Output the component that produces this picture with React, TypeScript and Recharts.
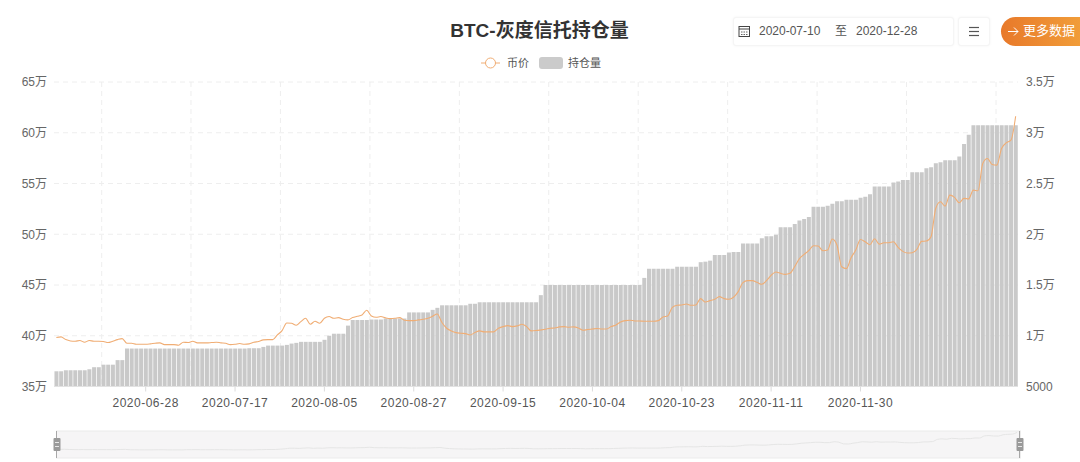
import React from 'react';
import { ComposedChart, Bar, Line, XAxis, YAxis, CartesianGrid, Brush, LineChart } from 'recharts';

const FONT = '"Liberation Sans","Noto Sans CJK SC",sans-serif';

// Holdings (BTC), one per trading day shown on the chart
const holdings: number[] = [
  365000,365000,366000,366000,366000,366000,366000,367000,369000,369000,
  371500,371500,371500,376000,376000,387400,387400,387400,387400,387400,
  387400,387400,387400,387400,387400,387400,387400,387400,387400,387400,
  387400,387400,387400,387400,387400,387400,387400,387400,387400,387400,
  387400,387700,387700,387700,389000,390300,390300,390300,390300,391000,
  392300,393000,394000,394000,394000,394000,394000,396000,400000,402000,
  402000,402000,410000,415500,415500,415500,415500,416000,416000,416000,
  417000,417000,417000,417000,417000,423000,423000,423000,423000,423000,
  425500,427500,430000,430000,430000,430000,430000,430000,431500,431500,
  433000,433000,433000,433000,433000,433000,433000,433000,433000,433000,
  433000,433000,433000,440000,450000,450000,450000,450000,450000,450000,
  450000,450000,450000,450000,450000,450000,450000,450000,450000,450000,
  450000,450000,450000,450000,450000,457000,466000,466000,466000,466000,
  466000,466000,468000,468000,468000,468000,468000,472500,473000,474000,
  479500,479500,479500,482000,482500,482500,491000,491000,491000,491000,
  496000,498000,498000,499500,507000,507000,507000,510000,513500,515000,
  517000,527000,527000,527000,528000,530000,532500,532500,534000,534000,
  534000,536000,537000,539500,547000,547000,547000,547000,551000,552000,
  553500,553500,561000,561000,561000,565000,566000,570000,571000,573000,
  573000,573000,576500,589000,598000,607500,607500,607500,607500,607500,
  607500,607500,607500,607500,607500,
];

// Coin price (USD), same order
const prices: number[] = [
  9820,9890,9620,9490,9460,9530,9360,9530,9460,9460,
  9430,9330,9460,9620,9720,9260,9260,9160,9160,9160,
  9200,9260,9300,9130,9130,9130,9070,9360,9330,9460,
  9300,9300,9300,9330,9360,9300,9260,9130,9160,9230,
  9160,9200,9360,9430,9590,9620,9620,10080,10510,11260,
  11230,11030,11390,11720,11130,11430,11230,11720,11890,11720,
  11790,11620,11560,11790,11920,12050,12510,11950,11820,11890,
  11760,11690,11720,11790,11530,11490,11490,11560,11620,11720,
  11920,12150,11300,10740,10480,10310,10250,10210,10080,10310,
  10480,10380,10380,10380,10740,10900,11000,10900,10970,11130,
  10900,10480,10510,10570,10640,10740,10770,10870,10900,10840,
  10870,10770,10540,10610,10670,10710,10670,10670,10900,11070,
  11360,11490,11530,11460,11460,11430,11430,11430,11490,11850,
  11950,12800,13000,13030,13130,13000,13030,13660,13330,13460,
  13590,13850,13660,13590,13790,14350,15230,15430,15430,15260,
  15070,15430,15950,16280,16150,16050,16150,16800,17590,18020,
  18380,18870,18840,18380,18440,19530,18940,16800,16610,17690,
  18440,19490,19260,18970,19560,19030,19170,19170,19260,18710,
  18310,18150,18180,18510,19300,19330,19760,22540,23200,22770,
  23850,23630,23100,23530,23490,24350,24280,26970,27460,26870,
  26810,28450,29000,29270,31630,
];

// Labelled dates; the tick labels sit at every 19th category
const tickDates: string[] = ['2020-06-28','2020-07-17','2020-08-05','2020-08-27','2020-09-15','2020-10-04','2020-10-23','2020-11-11','2020-11-30'];
const tickIndexes: number[] = [19,38,57,76,95,114,133,152,171];
const leftTicks: number[] = [350000,400000,450000,500000,550000,600000,650000];
const rightTicks: number[] = [5000,10000,15000,20000,25000,30000,35000];
// Vertical guide lines, as a fraction of the plot width
const guideFractions: number[] = [0.0495,0.1421,0.2349,0.3277,0.4205,0.5132,0.606,0.6988,0.7916,0.8844,0.9772];

const categories: string[] = holdings.map((_, i) => {
  const t = tickIndexes.indexOf(i);
  return t >= 0 ? tickDates[t] : `d${i}`;
});
const rows = categories.map((date, i) => ({ date, holdings: holdings[i], price: prices[i] }));

const wan = (v: number) => (v === 5000 ? '5000' : `${v / 10000}万`);

const Handle = (p: any) => (
  <g>
    <line x1={p.x} x2={p.x} y1={p.y} y2={p.y + p.height} stroke="#a8a8a8" strokeWidth={1} />
    <rect x={p.x - 3} y={p.y + 7} width={7} height={13} rx={1} fill="#9a9a9a" />
    <rect x={p.x - 1.5} y={p.y + 11} width={4} height={1} fill="#e8e8e8" />
    <rect x={p.x - 1.5} y={p.y + 15} width={4} height={1} fill="#e8e8e8" />
  </g>
);

const box: React.CSSProperties = {
  position: 'absolute', top: 17, height: 29, boxSizing: 'border-box', background: '#fff',
  border: '1px solid #f5f5f5', borderRadius: 3, boxShadow: '0 0 3px rgba(0,0,0,0.05)',
};
const small = (left: number, color = '#555', size = 12): React.CSSProperties => ({
  position: 'absolute', left, top: 23, fontSize: size, lineHeight: '17px', color, whiteSpace: 'nowrap',
});

export default function App() {
  return (
    <div style={{ position: 'absolute', left: 0, top: 0, width: 1080, height: 462, overflow: 'hidden', background: '#fff', fontFamily: FONT }}>
      <ComposedChart width={1080} height={462} data={rows} barCategoryGap="30%" margin={{ top: 82, right: 0, bottom: 18.5, left: 0 }}>
        <CartesianGrid
          stroke="#eeeeee"
          strokeDasharray="5 4"
          yAxisId="left"
          verticalCoordinatesGenerator={({ offset }: any) => guideFractions.map((f) => offset.left + offset.width * f)}
        />
        <XAxis
          dataKey="date"
          ticks={tickDates}
          interval={0}
          height={30}
          tickSize={5}
          tickMargin={7}
          axisLine={{ stroke: '#e2e2e2' }}
          tickLine={{ stroke: '#dcdcdc' }}
          tick={{ fontSize: 12, fill: '#555', fontFamily: FONT, letterSpacing: 0.5 }}
        />
        <YAxis
          yAxisId="left"
          width={54}
          domain={[350000, 650000]}
          ticks={leftTicks}
          tickFormatter={wan}
          axisLine={false}
          tickLine={false}
          tickMargin={1}
          tick={{ fontSize: 12, fill: '#666', fontFamily: FONT }}
        />
        <YAxis
          yAxisId="right"
          orientation="right"
          width={62}
          domain={[5000, 35000]}
          ticks={rightTicks}
          tickFormatter={wan}
          axisLine={false}
          tickLine={false}
          tickMargin={2}
          tick={{ fontSize: 12, fill: '#666', fontFamily: FONT }}
        />
        <Bar yAxisId="left" dataKey="holdings" name="持仓量" fill="#c9c9c9" isAnimationActive={false} />
        <Line yAxisId="right" dataKey="price" name="币价" type="monotone" stroke="#f0ad74" strokeWidth={1.1} dot={false} isAnimationActive={false} />
        <Brush
          dataKey="date"
          x={56.5}
          y={431}
          width={964}
          height={27}
          travellerWidth={1}
          stroke="#ececec"
          fill="#f9f8f9"
          traveller={(p: any) => <Handle {...p} />}
          tickFormatter={() => ''}
        >
          <LineChart data={rows}>
            <Line dataKey="price" type="monotone" stroke="#e4e4e4" strokeWidth={1} dot={false} isAnimationActive={false} />
          </LineChart>
        </Brush>
      </ComposedChart>

      <div style={{ position: 'absolute', left: 0, width: 1079, top: 19, textAlign: 'center', fontSize: 19, lineHeight: '24px', fontWeight: 700, color: '#333' }}>BTC-灰度信托持仓量</div>

      <svg style={{ position: 'absolute', left: 480, top: 55.5 }} width={22} height={14}>
        <line x1={1} x2={20} y1={7} y2={7} stroke="#f0ad74" />
        <circle cx={10.5} cy={7} r={5} fill="#fff" stroke="#f0ad74" />
      </svg>
      <div style={{ ...small(507, '#555', 11), top: 54.5 }}>币价</div>
      <div style={{ position: 'absolute', left: 539, top: 57, width: 24, height: 12, borderRadius: 3, background: '#cbcbcb' }} />
      <div style={{ ...small(568, '#555', 11), top: 54.5 }}>持仓量</div>

      <div style={{ ...box, left: 733, width: 221 }} />
      <svg style={{ position: 'absolute', left: 738, top: 25 }} width={13} height={13}>
        <rect x={1} y={1.5} width={10.5} height={10} fill="none" stroke="#444" />
        <line x1={1} x2={11.5} y1={4} y2={4} stroke="#444" />
        <line x1={3} x2={10} y1={7} y2={7} stroke="#666" strokeDasharray="1.5 1" />
        <line x1={3} x2={10} y1={9.5} y2={9.5} stroke="#666" strokeDasharray="1.5 1" />
      </svg>
      <div style={small(759)}>2020-07-10</div>
      <div style={small(835)}>至</div>
      <div style={small(856)}>2020-12-28</div>

      <div style={{ ...box, left: 958, width: 32 }} />
      <svg style={{ position: 'absolute', left: 968, top: 26 }} width={12} height={11}>
        <line x1={1} x2={11} y1={1.5} y2={1.5} stroke="#555" strokeWidth={1.2} />
        <line x1={1} x2={11} y1={5.5} y2={5.5} stroke="#555" strokeWidth={1.2} />
        <line x1={1} x2={11} y1={9.5} y2={9.5} stroke="#555" strokeWidth={1.2} />
      </svg>

      <div style={{ position: 'absolute', left: 1001, top: 17, width: 100, height: 29, borderRadius: 15, background: 'linear-gradient(90deg,#e8792a,#f3a63d)' }} />
      <svg style={{ position: 'absolute', left: 1007, top: 25 }} width={13} height={13}>
        <path d="M1 6.5H11M7 2.5L11 6.5L7 10.5" fill="none" stroke="#fff" strokeWidth={1} />
      </svg>
      <div style={{ position: 'absolute', left: 1023, top: 22, fontSize: 13, lineHeight: '18px', color: '#fff', whiteSpace: 'nowrap' }}>更多数据</div>
    </div>
  );
}
